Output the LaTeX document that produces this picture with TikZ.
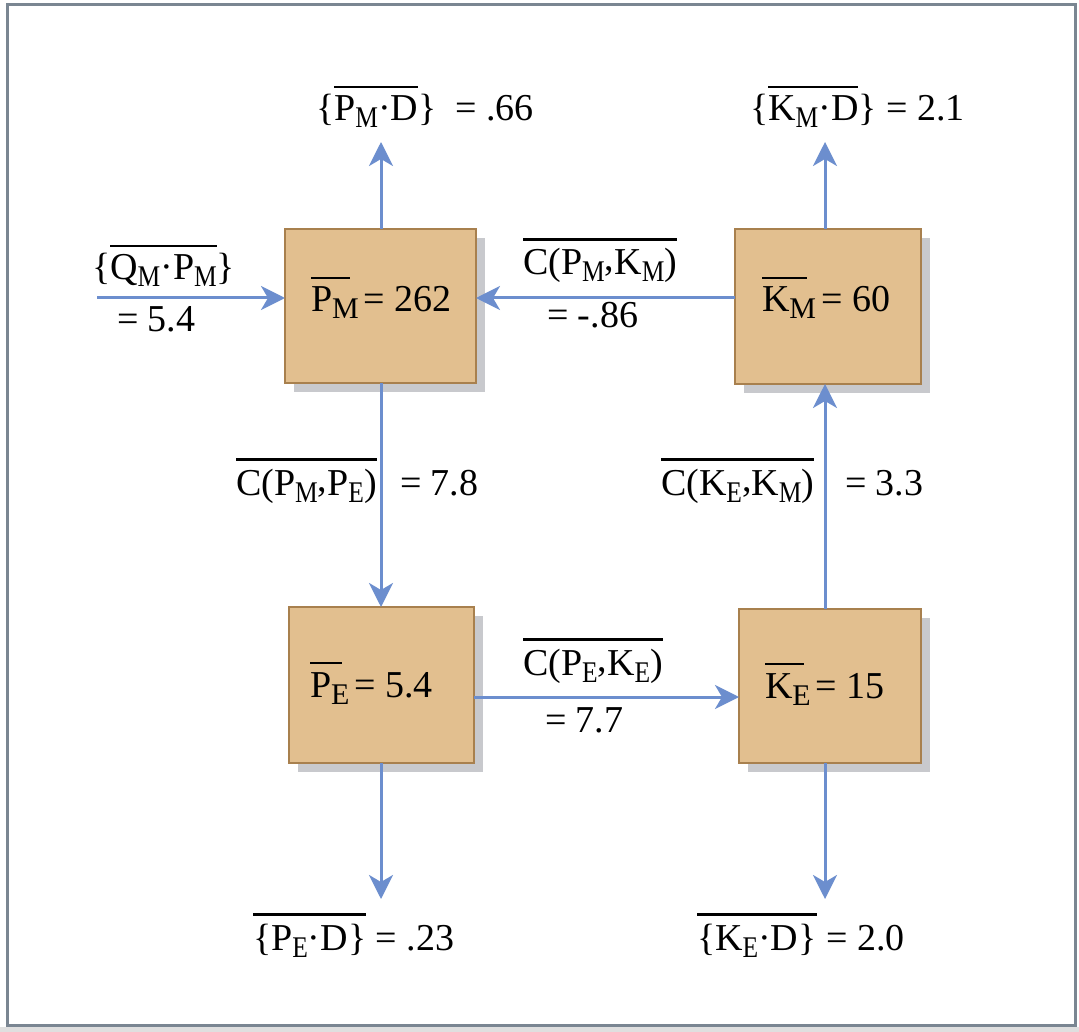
\documentclass[tikz,border=0pt]{standalone}
\usepackage{fontspec}
\setmainfont{Liberation Serif}
\usetikzlibrary{arrows.meta,shadows}
\definecolor{arrowblue}{RGB}{108,142,206}
\definecolor{boxfill}{RGB}{226,191,143}
\definecolor{boxline}{RGB}{168,128,78}
\definecolor{shadowgray}{RGB}{200,201,205}
\definecolor{framegray}{RGB}{122,134,146}
\newcommand\sbs[1]{\raisebox{-7pt}{\scalebox{0.85}[1]{\fontsize{30}{30}\selectfont #1}}}
\newcommand\bsbs[1]{\raisebox{-7pt}{\fontsize{30}{30}\selectfont #1}}
\newcommand\ovl[1]{\vbox{\hrule height 2.2pt\kern 8pt\hbox{#1}}}
\newcommand\cma{\raisebox{4pt}{,}}
\begin{document}
\begin{tikzpicture}[x=1pt,y=-1pt,
 box/.style={draw=boxline,line width=2pt,fill=boxfill,inner sep=0pt,outer sep=0pt,
   drop shadow={shadow xshift=9pt,shadow yshift=-9pt,fill=shadowgray,opacity=1}},
 arr/.style={draw=arrowblue,line width=3pt,-{Stealth[length=24pt,width=24pt,inset=7pt]}},
 txt/.style={inner sep=0pt,outer sep=0pt,anchor=base west,font=\fontsize{38}{42}\selectfont}]
\useasboundingbox (0,0) rectangle (1079,1032);
\fill[white] (0,0) rectangle (1079,1032);
\fill[gray!25] (0,1027) rectangle (1079,1032);
\draw[framegray,line width=3pt] (7.5,4.5) rectangle (1075.5,1025.5);

% boxes
\node[box,minimum width=191pt,minimum height=154pt] (PM) at (380.5,306) {};
\node[box,minimum width=186pt,minimum height=155pt] (KM) at (828,306.5) {};
\node[box,minimum width=185pt,minimum height=156pt] (PE) at (381.5,685) {};
\node[box,minimum width=182pt,minimum height=154pt] (KE) at (830,686) {};

% box texts
\node[txt] (PMt) at (311,312) {\ovl{P\bsbs{M}\kern-9pt}\kern9pt\kern5pt= 262};
\node[txt] (KMt) at (762,312) {\ovl{K\bsbs{M}\kern-9pt}\kern9pt\kern5pt= 60};
\node[txt] (PEt) at (310,697) {\ovl{P\bsbs{E}\kern-7pt}\kern7pt\kern5pt= 5.4};
\node[txt] (KEt) at (765,698) {\ovl{K\bsbs{E}\kern-7pt}\kern7pt\kern5pt= 15};

% helper coordinates
\coordinate (colL) at (381,0);
\coordinate (colR) at (825,0);
\coordinate (rowA) at (0,298);
\coordinate (rowB) at (0,697);
\coordinate (tPM) at (381,142);
\coordinate (tKM) at (825,142);
\coordinate (inL) at (97,298);
\coordinate (bPE) at (381,899);
\coordinate (bKE) at (825,899);

% connectors
\draw[arr] (PM.north -| colL) -- (tPM);
\draw[arr] (KM.north -| colR) -- (tKM);
\draw[arr] (inL) -- (inL -| PM.west);
\draw[arr] (KM.west |- rowA) -- (PM.east |- rowA);
\draw[arr] (PM.south -| colL) -- (PE.north -| colL);
\draw[arr] (KE.north -| colR) -- (KM.south -| colR);
\draw[arr] (PE.east |- rowB) -- (KE.west |- rowB);
\draw[arr] (PE.south -| colL) -- (bPE);
\draw[arr] (KE.south -| colR) -- (bKE);

% labels
\node[txt] (l1) at (316,121) {\{\ovl{P\sbs{M}·D}\} \ = .66};
\node[txt] (l2) at (750,121) {\{\ovl{K\sbs{M}·D}\} = 2.1};
\node[txt] (l3) at (92,280) {\{\ovl{Q\sbs{M}·P\sbs{M}}\}};
\node[txt] (l4) at (117,332) {= 5.4};
\node[txt] (l5) at (523,275) {\ovl{C(P\sbs{M}\cma K\sbs{M})}};
\node[txt] (l6) at (547,327) {= -.86};
\node[txt] (l7) at (236,495) {\ovl{C(P\sbs{M}\cma P\sbs{E})}};
\node[txt] (l8) at (400,495) {= 7.8};
\node[txt] (l9) at (661,495) {\ovl{C(K\sbs{E}\cma K\sbs{M})}};
\node[txt] (l10) at (845,495) {= 3.3};
\node[txt] (l11) at (523,675) {\ovl{C(P\sbs{E}\cma K\sbs{E})}};
\node[txt] (l12) at (545,732) {= 7.7};
\node[txt] (l13) at (253,950) {\ovl{\{P\sbs{E}·D\}} = .23};
\node[txt] (l14) at (697,950) {\ovl{\{K\sbs{E}·D\}} = 2.0};
\end{tikzpicture}
\end{document}
